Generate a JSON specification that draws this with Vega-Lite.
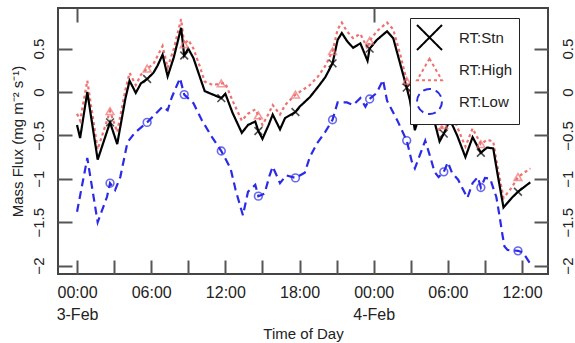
{
  "$schema": "https://vega.github.io/schema/vega-lite/v6.json",
  "autosize": "none",
  "width": 490,
  "height": 266,
  "padding": {"left": 58, "top": 8, "right": 27, "bottom": 69},
  "background": "white",
  "config": {
    "font": "Liberation Sans",
    "view": {"stroke": "#444", "strokeWidth": 2},
    "axis": {"grid": false, "domain": false, "tickColor": "#555", "tickWidth": 2, "labelColor": "#222", "titleColor": "#222", "titleFontWeight": "normal"}
  },
  "data": {"values": [
    {"h": 0, "s": "RT:Low", "v": -1.38}, {"h": 0.83, "s": "RT:Low", "v": -0.76}, {"h": 1.67, "s": "RT:Low", "v": -1.5},
    {"h": 2.42, "s": "RT:Low", "v": -1.21}, {"h": 2.67, "s": "RT:Low", "v": -1.05}, {"h": 3.08, "s": "RT:Low", "v": -1.13},
    {"h": 3.5, "s": "RT:Low", "v": -0.98}, {"h": 4.08, "s": "RT:Low", "v": -0.58}, {"h": 4.67, "s": "RT:Low", "v": -0.47},
    {"h": 5.67, "s": "RT:Low", "v": -0.35}, {"h": 6.08, "s": "RT:Low", "v": -0.29}, {"h": 6.92, "s": "RT:Low", "v": -0.17},
    {"h": 7.33, "s": "RT:Low", "v": -0.21}, {"h": 7.67, "s": "RT:Low", "v": -0.06}, {"h": 8.33, "s": "RT:Low", "v": 0.16},
    {"h": 8.67, "s": "RT:Low", "v": -0.03}, {"h": 9.42, "s": "RT:Low", "v": -0.13}, {"h": 10.08, "s": "RT:Low", "v": -0.32},
    {"h": 10.92, "s": "RT:Low", "v": -0.52}, {"h": 11.67, "s": "RT:Low", "v": -0.68}, {"h": 12.42, "s": "RT:Low", "v": -0.88},
    {"h": 12.83, "s": "RT:Low", "v": -1.13}, {"h": 13.42, "s": "RT:Low", "v": -1.42}, {"h": 13.83, "s": "RT:Low", "v": -1.15},
    {"h": 14.42, "s": "RT:Low", "v": -1.07}, {"h": 14.67, "s": "RT:Low", "v": -1.2}, {"h": 15.17, "s": "RT:Low", "v": -1.17},
    {"h": 15.58, "s": "RT:Low", "v": -0.96}, {"h": 15.83, "s": "RT:Low", "v": -0.86}, {"h": 16.42, "s": "RT:Low", "v": -1.05},
    {"h": 16.92, "s": "RT:Low", "v": -0.96}, {"h": 17.67, "s": "RT:Low", "v": -0.99}, {"h": 18.42, "s": "RT:Low", "v": -0.93},
    {"h": 18.83, "s": "RT:Low", "v": -0.75}, {"h": 19.42, "s": "RT:Low", "v": -0.59}, {"h": 20.08, "s": "RT:Low", "v": -0.46},
    {"h": 20.67, "s": "RT:Low", "v": -0.32}, {"h": 21.08, "s": "RT:Low", "v": -0.12}, {"h": 21.83, "s": "RT:Low", "v": -0.12},
    {"h": 22.33, "s": "RT:Low", "v": -0.15}, {"h": 22.92, "s": "RT:Low", "v": -0.07}, {"h": 23.33, "s": "RT:Low", "v": -0.17},
    {"h": 23.67, "s": "RT:Low", "v": -0.08}, {"h": 24.25, "s": "RT:Low", "v": -0.01}, {"h": 24.75, "s": "RT:Low", "v": 0.14},
    {"h": 25.08, "s": "RT:Low", "v": -0.1}, {"h": 25.92, "s": "RT:Low", "v": -0.33}, {"h": 26.67, "s": "RT:Low", "v": -0.56},
    {"h": 27.08, "s": "RT:Low", "v": -0.8}, {"h": 27.33, "s": "RT:Low", "v": -0.88}, {"h": 28.17, "s": "RT:Low", "v": -0.56},
    {"h": 28.58, "s": "RT:Low", "v": -0.75}, {"h": 28.92, "s": "RT:Low", "v": -0.92}, {"h": 29.25, "s": "RT:Low", "v": -0.98},
    {"h": 29.67, "s": "RT:Low", "v": -0.92}, {"h": 30.0, "s": "RT:Low", "v": -0.81}, {"h": 30.33, "s": "RT:Low", "v": -0.93},
    {"h": 30.83, "s": "RT:Low", "v": -1.01}, {"h": 31.25, "s": "RT:Low", "v": -1.13}, {"h": 31.58, "s": "RT:Low", "v": -1.22},
    {"h": 32.0, "s": "RT:Low", "v": -1.05}, {"h": 32.42, "s": "RT:Low", "v": -0.98}, {"h": 32.67, "s": "RT:Low", "v": -1.1},
    {"h": 33.0, "s": "RT:Low", "v": -0.99}, {"h": 33.42, "s": "RT:Low", "v": -1.0}, {"h": 33.92, "s": "RT:Low", "v": -1.21},
    {"h": 34.17, "s": "RT:Low", "v": -1.42}, {"h": 34.42, "s": "RT:Low", "v": -1.65}, {"h": 34.58, "s": "RT:Low", "v": -1.78},
    {"h": 34.83, "s": "RT:Low", "v": -1.82}, {"h": 35.67, "s": "RT:Low", "v": -1.83}, {"h": 36.08, "s": "RT:Low", "v": -1.85},
    {"h": 36.67, "s": "RT:Low", "v": -1.98},

    {"h": 0, "s": "RT:High", "v": -0.25}, {"h": 0.25, "s": "RT:High", "v": -0.33}, {"h": 0.83, "s": "RT:High", "v": 0.13},
    {"h": 1.67, "s": "RT:High", "v": -0.66}, {"h": 2.67, "s": "RT:High", "v": -0.22}, {"h": 3.25, "s": "RT:High", "v": -0.46},
    {"h": 3.92, "s": "RT:High", "v": 0.03}, {"h": 4.25, "s": "RT:High", "v": 0.22}, {"h": 4.75, "s": "RT:High", "v": 0.08},
    {"h": 5.17, "s": "RT:High", "v": 0.2}, {"h": 5.67, "s": "RT:High", "v": 0.27}, {"h": 6.17, "s": "RT:High", "v": 0.32},
    {"h": 6.92, "s": "RT:High", "v": 0.53}, {"h": 7.33, "s": "RT:High", "v": 0.28}, {"h": 7.83, "s": "RT:High", "v": 0.5},
    {"h": 8.42, "s": "RT:High", "v": 0.84}, {"h": 8.67, "s": "RT:High", "v": 0.55}, {"h": 9.0, "s": "RT:High", "v": 0.6},
    {"h": 9.42, "s": "RT:High", "v": 0.5}, {"h": 9.92, "s": "RT:High", "v": 0.3}, {"h": 10.33, "s": "RT:High", "v": 0.12},
    {"h": 11.0, "s": "RT:High", "v": 0.08}, {"h": 11.67, "s": "RT:High", "v": 0.1}, {"h": 12.0, "s": "RT:High", "v": 0.1},
    {"h": 12.58, "s": "RT:High", "v": -0.1}, {"h": 13.33, "s": "RT:High", "v": -0.33}, {"h": 13.83, "s": "RT:High", "v": -0.25},
    {"h": 14.42, "s": "RT:High", "v": -0.2}, {"h": 14.67, "s": "RT:High", "v": -0.27}, {"h": 15.0, "s": "RT:High", "v": -0.38},
    {"h": 15.5, "s": "RT:High", "v": -0.25}, {"h": 15.83, "s": "RT:High", "v": -0.15}, {"h": 16.42, "s": "RT:High", "v": -0.26},
    {"h": 16.83, "s": "RT:High", "v": -0.15}, {"h": 17.67, "s": "RT:High", "v": -0.03}, {"h": 18.0, "s": "RT:High", "v": 0.0},
    {"h": 18.83, "s": "RT:High", "v": 0.08}, {"h": 19.5, "s": "RT:High", "v": 0.18}, {"h": 20.08, "s": "RT:High", "v": 0.3},
    {"h": 20.67, "s": "RT:High", "v": 0.47}, {"h": 21.08, "s": "RT:High", "v": 0.72}, {"h": 21.42, "s": "RT:High", "v": 0.8},
    {"h": 21.83, "s": "RT:High", "v": 0.7}, {"h": 22.33, "s": "RT:High", "v": 0.62}, {"h": 22.92, "s": "RT:High", "v": 0.67},
    {"h": 23.5, "s": "RT:High", "v": 0.5}, {"h": 23.67, "s": "RT:High", "v": 0.59}, {"h": 24.25, "s": "RT:High", "v": 0.7},
    {"h": 25.08, "s": "RT:High", "v": 0.8}, {"h": 25.58, "s": "RT:High", "v": 0.72}, {"h": 26.17, "s": "RT:High", "v": 0.42},
    {"h": 26.67, "s": "RT:High", "v": 0.13}, {"h": 26.92, "s": "RT:High", "v": 0.0}, {"h": 27.33, "s": "RT:High", "v": -0.36},
    {"h": 28.17, "s": "RT:High", "v": 0.05}, {"h": 28.75, "s": "RT:High", "v": -0.15}, {"h": 29.33, "s": "RT:High", "v": -0.45},
    {"h": 29.67, "s": "RT:High", "v": -0.38}, {"h": 30.17, "s": "RT:High", "v": -0.2}, {"h": 30.75, "s": "RT:High", "v": -0.4},
    {"h": 31.42, "s": "RT:High", "v": -0.63}, {"h": 32.0, "s": "RT:High", "v": -0.42}, {"h": 32.67, "s": "RT:High", "v": -0.6},
    {"h": 33.17, "s": "RT:High", "v": -0.55}, {"h": 33.67, "s": "RT:High", "v": -0.57}, {"h": 34.0, "s": "RT:High", "v": -0.85},
    {"h": 34.5, "s": "RT:High", "v": -1.22}, {"h": 35.17, "s": "RT:High", "v": -1.1}, {"h": 35.67, "s": "RT:High", "v": -0.98},
    {"h": 36.67, "s": "RT:High", "v": -0.88},

    {"h": 0, "s": "RT:Stn", "v": -0.38}, {"h": 0.25, "s": "RT:Stn", "v": -0.53}, {"h": 0.83, "s": "RT:Stn", "v": 0.0},
    {"h": 1.67, "s": "RT:Stn", "v": -0.78}, {"h": 2.67, "s": "RT:Stn", "v": -0.35}, {"h": 3.25, "s": "RT:Stn", "v": -0.6},
    {"h": 3.92, "s": "RT:Stn", "v": -0.07}, {"h": 4.25, "s": "RT:Stn", "v": 0.13}, {"h": 4.75, "s": "RT:Stn", "v": -0.01},
    {"h": 5.17, "s": "RT:Stn", "v": 0.1}, {"h": 5.67, "s": "RT:Stn", "v": 0.15}, {"h": 6.17, "s": "RT:Stn", "v": 0.22},
    {"h": 6.5, "s": "RT:Stn", "v": 0.3}, {"h": 6.92, "s": "RT:Stn", "v": 0.43}, {"h": 7.33, "s": "RT:Stn", "v": 0.18},
    {"h": 7.83, "s": "RT:Stn", "v": 0.4}, {"h": 8.42, "s": "RT:Stn", "v": 0.74}, {"h": 8.67, "s": "RT:Stn", "v": 0.42},
    {"h": 9.0, "s": "RT:Stn", "v": 0.5}, {"h": 9.42, "s": "RT:Stn", "v": 0.39}, {"h": 9.92, "s": "RT:Stn", "v": 0.18},
    {"h": 10.33, "s": "RT:Stn", "v": 0.01}, {"h": 11.0, "s": "RT:Stn", "v": -0.03}, {"h": 11.67, "s": "RT:Stn", "v": -0.07},
    {"h": 12.0, "s": "RT:Stn", "v": -0.02}, {"h": 12.58, "s": "RT:Stn", "v": -0.24}, {"h": 13.33, "s": "RT:Stn", "v": -0.47},
    {"h": 13.83, "s": "RT:Stn", "v": -0.38}, {"h": 14.42, "s": "RT:Stn", "v": -0.34}, {"h": 14.67, "s": "RT:Stn", "v": -0.45},
    {"h": 15.0, "s": "RT:Stn", "v": -0.54}, {"h": 15.5, "s": "RT:Stn", "v": -0.38}, {"h": 15.83, "s": "RT:Stn", "v": -0.26},
    {"h": 16.42, "s": "RT:Stn", "v": -0.43}, {"h": 16.83, "s": "RT:Stn", "v": -0.3}, {"h": 17.67, "s": "RT:Stn", "v": -0.23},
    {"h": 18.0, "s": "RT:Stn", "v": -0.17}, {"h": 18.83, "s": "RT:Stn", "v": -0.06}, {"h": 19.5, "s": "RT:Stn", "v": 0.06},
    {"h": 20.08, "s": "RT:Stn", "v": 0.17}, {"h": 20.67, "s": "RT:Stn", "v": 0.33}, {"h": 21.08, "s": "RT:Stn", "v": 0.6},
    {"h": 21.42, "s": "RT:Stn", "v": 0.68}, {"h": 21.83, "s": "RT:Stn", "v": 0.59}, {"h": 22.33, "s": "RT:Stn", "v": 0.51},
    {"h": 22.92, "s": "RT:Stn", "v": 0.56}, {"h": 23.5, "s": "RT:Stn", "v": 0.36}, {"h": 23.67, "s": "RT:Stn", "v": 0.5},
    {"h": 24.25, "s": "RT:Stn", "v": 0.6}, {"h": 25.08, "s": "RT:Stn", "v": 0.7}, {"h": 25.58, "s": "RT:Stn", "v": 0.62},
    {"h": 26.17, "s": "RT:Stn", "v": 0.31}, {"h": 26.67, "s": "RT:Stn", "v": 0.05}, {"h": 26.92, "s": "RT:Stn", "v": -0.09},
    {"h": 27.33, "s": "RT:Stn", "v": -0.44}, {"h": 28.17, "s": "RT:Stn", "v": -0.05}, {"h": 28.75, "s": "RT:Stn", "v": -0.25},
    {"h": 29.33, "s": "RT:Stn", "v": -0.57}, {"h": 29.67, "s": "RT:Stn", "v": -0.48}, {"h": 30.17, "s": "RT:Stn", "v": -0.32},
    {"h": 30.75, "s": "RT:Stn", "v": -0.5}, {"h": 31.42, "s": "RT:Stn", "v": -0.75}, {"h": 32.0, "s": "RT:Stn", "v": -0.52},
    {"h": 32.67, "s": "RT:Stn", "v": -0.7}, {"h": 33.17, "s": "RT:Stn", "v": -0.64}, {"h": 33.67, "s": "RT:Stn", "v": -0.65},
    {"h": 34.0, "s": "RT:Stn", "v": -0.93}, {"h": 34.5, "s": "RT:Stn", "v": -1.33}, {"h": 35.17, "s": "RT:Stn", "v": -1.22},
    {"h": 35.67, "s": "RT:Stn", "v": -1.15}, {"h": 36.67, "s": "RT:Stn", "v": -1.04}
  ]},
  "resolve": {"axis": {"x": "independent", "y": "independent"}},
  "layer": [
    {
      "mark": {"type": "line", "strokeWidth": 2.2},
      "encoding": {
        "x": {"field": "h", "type": "quantitative",
          "scale": {"domain": [-1.54, 38.1], "nice": false, "zero": false},
          "axis": {"orient": "bottom", "title": "Time of Day", "titleFontSize": 15, "titlePadding": 4,
            "values": [0, 3, 6, 9, 12, 15, 18, 21, 24, 27, 30, 33, 36], "tickSize": 14, "offset": -14,
            "labelPadding": 10, "labelFontSize": 16, "labelLineHeight": 22, "labelOverlap": false, "labelFlush": false,
            "labelExpr": "datum.value % 6 == 0 ? (datum.value % 24 == 0 ? ['00:00', datum.value == 0 ? '3-Feb' : '4-Feb'] : ((datum.value % 24 < 10 ? '0' : '') + (datum.value % 24) + ':00')) : ''"}},
        "y": {"field": "v", "type": "quantitative",
          "scale": {"domain": [-2.097, 0.968], "nice": false, "zero": false},
          "axis": {"orient": "left", "title": "Mass Flux (mg m⁻² s⁻¹)", "titleFontSize": 15, "titlePadding": 6,
            "values": [-2, -1.5, -1, -0.5, 0, 0.5], "format": "~g", "tickSize": 14, "offset": -14,
            "labelPadding": 12, "labelFontSize": 15, "labelAngle": 270}},
        "color": {"field": "s", "type": "nominal",
          "scale": {"domain": ["RT:Stn", "RT:High", "RT:Low"], "range": ["#000000", "#f07070", "#2a2ae8"]},
          "legend": {"orient": "none", "legendX": 352, "legendY": 10, "title": null,
            "strokeColor": "#222", "fillColor": "white", "padding": 6, "rowPadding": 0,
            "symbolType": "stroke", "symbolSize": 625, "labelOffset": 16, "labelFontSize": 15, "labelColor": "#222",
            "symbolStrokeWidth": 2}},
        "strokeDash": {"field": "s", "type": "nominal",
          "scale": {"domain": ["RT:Stn", "RT:High", "RT:Low"], "range": [[1, 0], [3, 3], [8, 5]]},
          "legend": {"orient": "none", "legendX": 352, "legendY": 10, "title": null,
            "strokeColor": "#222", "fillColor": "white", "padding": 6, "rowPadding": 0,
            "symbolType": "stroke", "symbolSize": 625, "labelOffset": 16, "labelFontSize": 15, "labelColor": "#222",
            "symbolStrokeWidth": 2}}
      }
    },
    {
      "transform": [{"filter": "abs(datum.h % 3 - 2.67) < 0.02"}],
      "mark": {"type": "point", "filled": false, "strokeWidth": 1.6},
      "encoding": {
        "x": {"field": "h", "type": "quantitative",
          "axis": {"orient": "top", "title": null, "labels": false, "tickSize": 14, "offset": -14, "values": [0, 24]}},
        "y": {"field": "v", "type": "quantitative",
          "axis": {"orient": "right", "title": null, "values": [-2, -1.5, -1, -0.5, 0, 0.5], "format": "~g",
            "tickSize": 14, "offset": -14, "labelPadding": 12, "labelFontSize": 15, "labelAngle": 270}},
        "color": {"field": "s", "type": "nominal", "legend": null},
        "shape": {"field": "s", "type": "nominal",
          "scale": {"domain": ["RT:Stn", "RT:High", "RT:Low"], "range": ["M-1,-1L1,1M-1,1L1,-1", "triangle-up", "circle"]},
          "legend": null},
        "size": {"value": 60}
      }
    }
  ]
}
